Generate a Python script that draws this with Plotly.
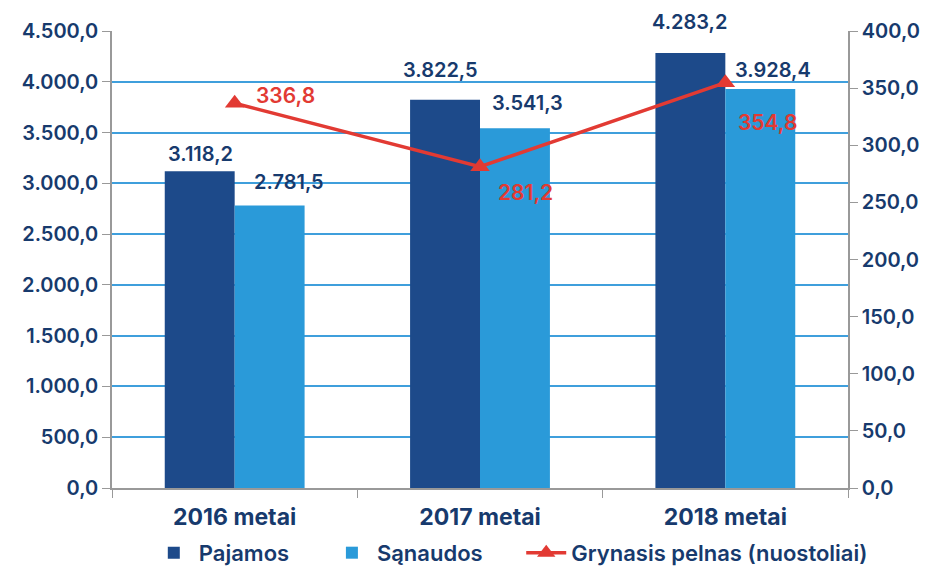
import plotly.graph_objects as go

categories = ["2016 metai", "2017 metai", "2018 metai"]
pajamos = [3118.2, 3822.5, 4283.2]
sanaudos = [2781.5, 3541.3, 3928.4]
pelnas = [336.8, 281.2, 354.8]

left_ticks = [0, 500, 1000, 1500, 2000, 2500, 3000, 3500, 4000, 4500]
right_ticks = [0, 50, 100, 150, 200, 250, 300, 350, 400]


def lt(v):
    s = f"{v:,.1f}"
    return s.replace(",", "X").replace(".", ",").replace("X", ".")


navy = "#1d4a8a"
light = "#2a9ad9"
red = "#e23a33"
txt = "#173a6d"
font = "Inter"


def f(size, color=txt, weight=600):
    return dict(family=font, size=size, color=color, weight=weight)


fig = go.Figure()
fig.add_trace(go.Bar(x=categories, y=pajamos, name="Pajamos", marker_color=navy,
                     marker_line_width=0, offsetgroup="a", legend="legend"))
fig.add_trace(go.Bar(x=categories, y=sanaudos, name="Sąnaudos", marker_color=light,
                     marker_line_width=0, offsetgroup="b", legend="legend2"))
fig.add_trace(go.Scatter(x=categories, y=pelnas, name="Grynasis pelnas (nuostoliai)",
                         yaxis="y2", mode="lines+markers", legend="legend3",
                         line=dict(color=red, width=3.5),
                         marker=dict(symbol="triangle-up", size=17, color=red)))

paj_shift = [(-34, 17), (-40, 30), (-36, 31)]
san_shift = [(54, 24), (47, 25), (48, 19)]
pel_shift = [(51, 8), (45, -26), (42, -40)]
ann = []
for i, c in enumerate(categories):
    ann.append(dict(x=c, y=pajamos[i], xref="x", yref="y", text=lt(pajamos[i]),
                    showarrow=False, xshift=paj_shift[i][0], yshift=paj_shift[i][1],
                    font=f(20)))
    ann.append(dict(x=c, y=sanaudos[i], xref="x", yref="y", text=lt(sanaudos[i]),
                    showarrow=False, xshift=san_shift[i][0], yshift=san_shift[i][1],
                    font=f(20)))
    ann.append(dict(x=c, y=pelnas[i], xref="x", yref="y2", text=lt(pelnas[i]),
                    showarrow=False, xshift=pel_shift[i][0], yshift=pel_shift[i][1],
                    font=f(21, red)))

leg_common = dict(orientation="h", xanchor="left", y=-0.142, yanchor="middle",
                  font=f(22), itemwidth=40, bgcolor="rgba(0,0,0,0)")

fig.update_layout(
    width=930, height=567,
    margin=dict(l=104, r=90, t=23, b=87, autoexpand=False),
    paper_bgcolor="white", plot_bgcolor="white",
    barmode="group", bargap=0.43, bargroupgap=0,
    font=f(17),
    showlegend=True,
    legend=dict(x=0.05, **leg_common),
    legend2=dict(x=0.292, **leg_common),
    legend3=dict(x=0.556, **leg_common),
    annotations=ann,
    xaxis=dict(showline=True, linecolor="#999999", linewidth=1.5, ticks="outside",
               tickson="boundaries", ticklen=8, tickcolor="#999999", automargin=False,
               ticklabelstandoff=8, tickfont=f(23, weight=700)),
    yaxis=dict(range=[0, 4500], tickvals=left_ticks, ticktext=[lt(v) for v in left_ticks],
               showgrid=True, gridcolor="#3f9fdc", gridwidth=1.5, zeroline=False,
               showline=True, linecolor="#999999", linewidth=1.5, ticks="outside",
               ticklen=8, tickcolor="#999999", automargin=False, tickfont=f(20)),
    yaxis2=dict(range=[0, 400], tickvals=right_ticks, ticktext=[lt(v) for v in right_ticks],
                overlaying="y", side="right", showgrid=False, zeroline=False,
                showline=True, linecolor="#999999", linewidth=1.5, ticks="outside",
                ticklen=8, tickcolor="#999999", automargin=False, tickfont=f(20)),
)

fig.write_html("out.html")
